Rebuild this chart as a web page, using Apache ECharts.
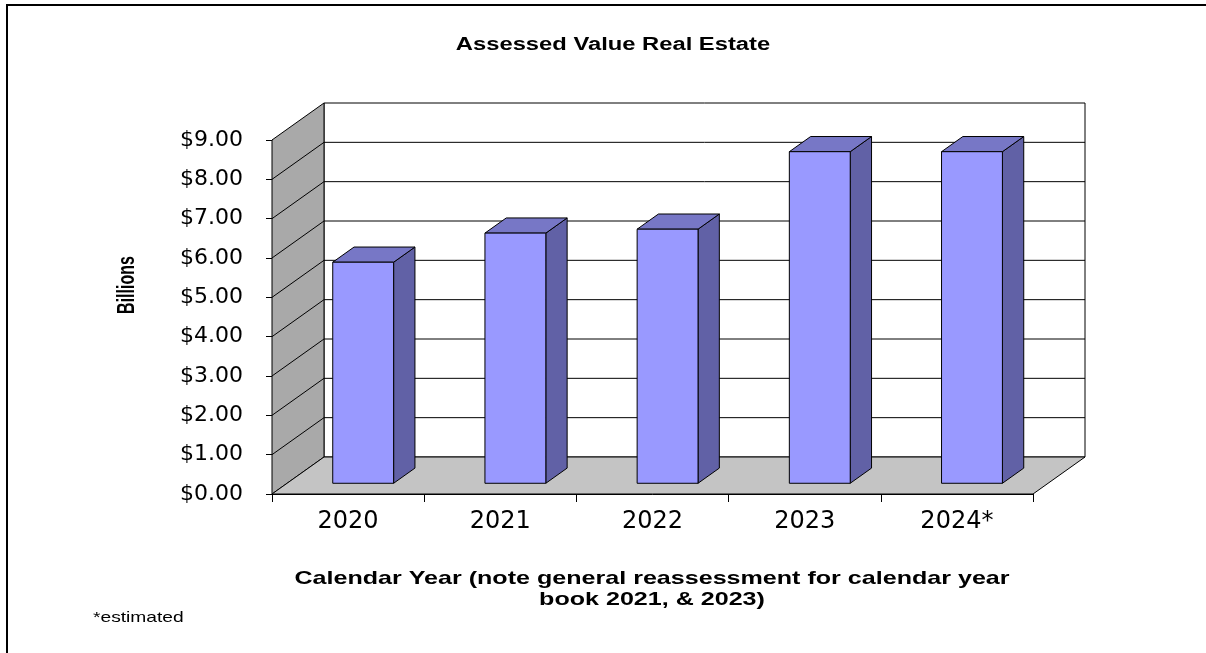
<!DOCTYPE html>
<html>
<head>
<meta charset="utf-8">
<title>Assessed Value Real Estate</title>
<script src="https://cdn.jsdelivr.net/npm/echarts@6/dist/echarts.min.js"></script>
<style>
  html, body { margin: 0; padding: 0; background: #fff; overflow: hidden; }
  #chart { width: 1206px; height: 653px; }
</style>
</head>
<body>
<div id="chart"></div>
<script>
// Assessed value of real estate, billions of dollars
const years = ['2020', '2021', '2022', '2023', '2024*'];
const assessedValue = [5.62, 6.36, 6.46, 8.43, 8.43];
const valueTicks = [0, 1, 2, 3, 4, 5, 6, 7, 8, 9];

const titleText = 'Assessed Value Real Estate';
const yAxisTitle = 'Billions';
const xAxisTitle = 'Calendar Year (note general reassessment for calendar year\nbook 2021, & 2023)';
const footnote = '*estimated';

// Pseudo-3D look: depth offset of the back wall and bar placement in depth
const DEPTH_X = 52, DEPTH_Y = -37;
const BAR_DEPTH_FROM = 0.29, BAR_DEPTH_TO = 0.70;
const BAR_WIDTH_RATIO = 0.40;
const TEXT_STRETCH = 1.32;

const COLORS = {
  sideWall: '#a9a9a9',
  floor: '#c4c4c4',
  backWall: '#ffffff',
  barFront: '#9999ff',
  barTop: '#7777c6',
  barSide: '#6161a6',
  line: '#000000'
};

const vMax = valueTicks[valueTicks.length - 1];
const FONT = '"Liberation Sans", Arial, sans-serif';

function renderFrame(params, api) {
  const bw = api.size([1, 0])[0];
  const xL = api.coord([0, 0])[0] - bw / 2;
  const xR = api.coord([years.length - 1, 0])[0] + bw / 2;
  const y0 = api.coord([0, 0])[1];
  const yT = api.coord([0, vMax])[1];
  const lineStyle = { stroke: COLORS.line, lineWidth: 1 };
  const children = [
    { type: 'polygon', shape: { points: [[xL + DEPTH_X, yT + DEPTH_Y], [xR + DEPTH_X, yT + DEPTH_Y], [xR + DEPTH_X, y0 + DEPTH_Y], [xL + DEPTH_X, y0 + DEPTH_Y]] },
      style: Object.assign({ fill: COLORS.backWall }, lineStyle) },
    { type: 'polygon', shape: { points: [[xL, y0], [xL, yT], [xL + DEPTH_X, yT + DEPTH_Y], [xL + DEPTH_X, y0 + DEPTH_Y]] },
      style: Object.assign({ fill: COLORS.sideWall }, lineStyle) },
    { type: 'polygon', shape: { points: [[xL, y0], [xR, y0], [xR + DEPTH_X, y0 + DEPTH_Y], [xL + DEPTH_X, y0 + DEPTH_Y]] },
      style: Object.assign({ fill: COLORS.floor }, lineStyle) }
  ];
  valueTicks.forEach(function (v) {
    if (v <= 0 || v >= vMax) return;
    const y = api.coord([0, v])[1];
    children.push({ type: 'line', shape: { x1: xL, y1: y, x2: xL + DEPTH_X, y2: y + DEPTH_Y }, style: lineStyle });
    children.push({ type: 'line', shape: { x1: xL + DEPTH_X, y1: y + DEPTH_Y, x2: xR + DEPTH_X, y2: y + DEPTH_Y }, style: lineStyle });
  });
  return { type: 'group', children: children };
}

function renderBar(params, api) {
  const idx = api.value(0);
  const val = api.value(1);
  const top = api.coord([idx, val]);
  const base = api.coord([idx, 0]);
  const bw = api.size([1, 0])[0] * BAR_WIDTH_RATIO;
  const ax = DEPTH_X * BAR_DEPTH_FROM, ay = DEPTH_Y * BAR_DEPTH_FROM;
  const bx = DEPTH_X * BAR_DEPTH_TO, by = DEPTH_Y * BAR_DEPTH_TO;
  const xl = top[0] - bw / 2, xr = top[0] + bw / 2;
  const yt = top[1], yb = base[1];
  const stroke = { stroke: COLORS.line, lineWidth: 1, lineJoin: 'round' };
  return {
    type: 'group',
    children: [
      { type: 'polygon', shape: { points: [[xr + ax, yt + ay], [xr + bx, yt + by], [xr + bx, yb + by], [xr + ax, yb + ay]] },
        style: Object.assign({ fill: COLORS.barSide }, stroke) },
      { type: 'polygon', shape: { points: [[xl + ax, yt + ay], [xl + bx, yt + by], [xr + bx, yt + by], [xr + ax, yt + ay]] },
        style: Object.assign({ fill: COLORS.barTop }, stroke) },
      { type: 'polygon', shape: { points: [[xl + ax, yt + ay], [xr + ax, yt + ay], [xr + ax, yb + ay], [xl + ax, yb + ay]] },
        style: Object.assign({ fill: COLORS.barFront }, stroke) }
    ]
  };
}

const chart = echarts.init(document.getElementById('chart'), null, { renderer: 'canvas' });

const option = {
  backgroundColor: '#ffffff',
  animation: false,
  grid: { left: 272, right: 173, top: 140, bottom: 159, containLabel: false },
  xAxis: {
    type: 'category',
    data: years,
    axisLine: { show: true, lineStyle: { color: '#000', width: 1 } },
    axisTick: { show: true, length: 8, lineStyle: { color: '#000' } },
    axisLabel: { color: '#000', fontFamily: 'DejaVu Sans', fontSize: 24, margin: 16 },
    splitLine: { show: false }
  },
  yAxis: {
    type: 'value',
    min: valueTicks[0],
    max: vMax,
    interval: 1,
    axisLine: { show: true, lineStyle: { color: '#000', width: 1 } },
    axisTick: { show: true, length: 6, lineStyle: { color: '#000' } },
    axisLabel: {
      color: '#000', fontFamily: 'DejaVu Sans', fontSize: 22, margin: 29,
      formatter: function (v) { return '$' + v.toFixed(2); }
    },
    splitLine: { show: false }
  },
  graphic: [
    // page frame: left and top edges only
    { type: 'line', silent: true, z: 100,
      shape: { x1: 7, y1: 4, x2: 7, y2: 653 },
      style: { stroke: '#000', lineWidth: 2 } },
    { type: 'line', silent: true, z: 100,
      shape: { x1: 6, y1: 5, x2: 1206, y2: 5 },
      style: { stroke: '#000', lineWidth: 2 } },
    { type: 'text', x: 613, y: 45, scaleX: TEXT_STRETCH, z: 100,
      style: { text: titleText, fill: '#000', fontFamily: FONT, fontWeight: 'bold', fontSize: 18,
               align: 'center', verticalAlign: 'middle', textAlign: 'center', textVerticalAlign: 'middle' } },
    { type: 'text', x: 128, y: 285, rotation: Math.PI / 2, scaleY: 1.45, z: 100,
      style: { text: yAxisTitle, fill: '#000', fontFamily: FONT, fontWeight: 'bold', fontSize: 16,
               align: 'center', verticalAlign: 'middle', textAlign: 'center', textVerticalAlign: 'middle' } },
    { type: 'text', x: 652, y: 589, scaleX: TEXT_STRETCH, z: 100,
      style: { text: xAxisTitle, fill: '#000', fontFamily: FONT, fontWeight: 'bold', fontSize: 19,
               lineHeight: 21, align: 'center', verticalAlign: 'middle', textAlign: 'center', textVerticalAlign: 'middle' } },
    { type: 'text', x: 93, y: 618, scaleX: 1.28, z: 100,
      style: { text: footnote, fill: '#000', fontFamily: FONT, fontSize: 15,
               align: 'left', verticalAlign: 'middle', textAlign: 'left', textVerticalAlign: 'middle' } }
  ],
  series: [
    {
      type: 'custom',
      name: 'frame',
      silent: true,
      clip: false,
      z: 1,
      renderItem: renderFrame,
      data: [[0, 0]],
      encode: { x: 0, y: 1 }
    },
    {
      type: 'custom',
      name: 'Assessed Value',
      clip: false,
      z: 3,
      renderItem: renderBar,
      data: assessedValue.map(function (v, i) { return [i, v]; }),
      encode: { x: 0, y: 1 }
    }
  ]
};

chart.setOption(option);
</script>
</body>
</html>
